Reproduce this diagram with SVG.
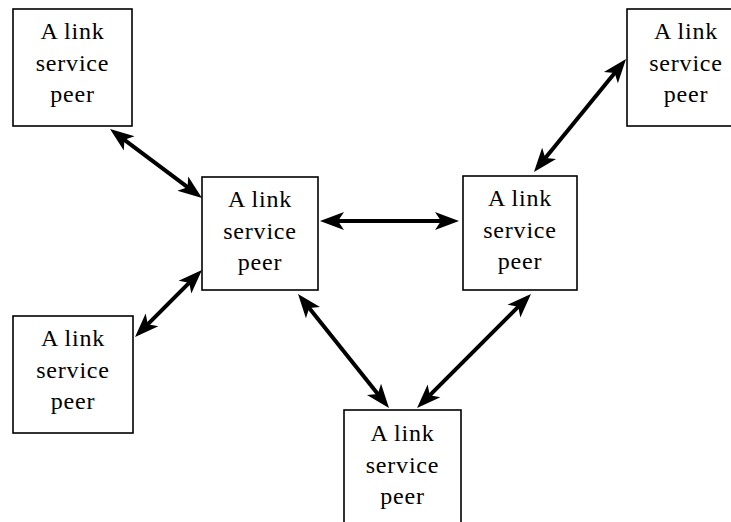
<svg xmlns="http://www.w3.org/2000/svg" width="731" height="522" viewBox="0 0 731 522">
  <style>
    .box { fill: #ffffff; stroke: #000000; stroke-width: 1.6; }
    .lbl { font-family: "Liberation Serif", "Times New Roman", serif; font-size: 24px; letter-spacing: 0.8px; fill: #000000; text-anchor: middle; }
    .link { stroke: #000000; stroke-width: 4; fill: none; marker-start: url(#head); marker-end: url(#head); }
  </style>
  <defs>
    <!-- barbed arrowhead; tip sits 8px beyond the line end -->
    <marker id="head" markerUnits="userSpaceOnUse" viewBox="-18 -11 28 22" refX="0" refY="0"
            markerWidth="28" markerHeight="22" orient="auto-start-reverse">
      <path d="M8,0 L-16,-9 L-10,0 L-16,9 Z" fill="#000000"/>
    </marker>
  </defs>
  <rect width="731" height="522" fill="#ffffff"/>

  <g id="connectors">
    <line class="link" x1="116.4" y1="133.8" x2="195.6" y2="193.2"/>
    <line class="link" x1="140.7" y1="331.3" x2="196.3" y2="275.7"/>
    <line class="link" x1="328" y1="221" x2="451" y2="221"/>
    <line class="link" x1="539.0" y1="165.8" x2="621.0" y2="65.2"/>
    <line class="link" x1="303.0" y1="300.2" x2="384.0" y2="401.8"/>
    <line class="link" x1="525.3" y1="299.7" x2="422.7" y2="402.3"/>
  </g>

  <g id="peer-top-left">
    <rect class="box" x="13" y="9" width="119" height="117"/>
    <text class="lbl" x="72.5" y="39">A link</text>
    <text class="lbl" x="72.5" y="71">service</text>
    <text class="lbl" x="72.5" y="102">peer</text>
  </g>

  <g id="peer-center">
    <rect class="box" x="202" y="177" width="116" height="113"/>
    <text class="lbl" x="260" y="207">A link</text>
    <text class="lbl" x="260" y="239">service</text>
    <text class="lbl" x="260" y="270">peer</text>
  </g>

  <g id="peer-right">
    <rect class="box" x="463" y="176" width="114" height="114"/>
    <text class="lbl" x="520" y="206">A link</text>
    <text class="lbl" x="520" y="238">service</text>
    <text class="lbl" x="520" y="269">peer</text>
  </g>

  <g id="peer-top-right">
    <rect class="box" x="627" y="9" width="119" height="117"/>
    <text class="lbl" x="686" y="39">A link</text>
    <text class="lbl" x="686" y="71">service</text>
    <text class="lbl" x="686" y="102">peer</text>
  </g>

  <g id="peer-bottom-left">
    <rect class="box" x="13" y="316" width="120" height="117"/>
    <text class="lbl" x="73" y="346">A link</text>
    <text class="lbl" x="73" y="378">service</text>
    <text class="lbl" x="73" y="409">peer</text>
  </g>

  <g id="peer-bottom">
    <rect class="box" x="344" y="410" width="117" height="120"/>
    <text class="lbl" x="402.5" y="441">A link</text>
    <text class="lbl" x="402.5" y="473">service</text>
    <text class="lbl" x="402.5" y="504">peer</text>
  </g>
</svg>
